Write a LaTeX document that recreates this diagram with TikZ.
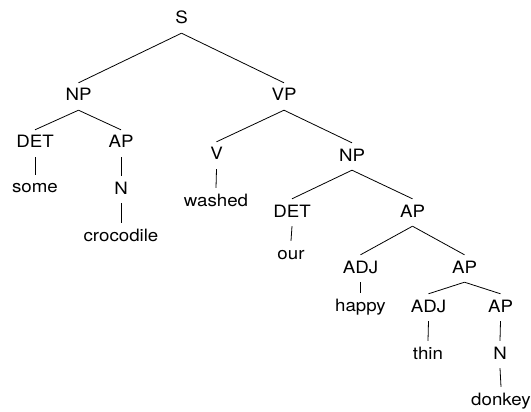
\documentclass[tikz,border=0pt]{standalone}
\usepackage{fontspec}
\setmainfont{TeX Gyre Heros}[FakeStretch=1.1]
\begin{document}
\begin{tikzpicture}[x=1pt,y=-1pt,
  tnode/.style={font=\fontsize{17}{20}\selectfont, anchor=base, text height=12pt, text depth=3pt, inner xsep=2pt, inner ysep=6pt},
  edge/.style={draw=black, line width=0.8pt}]
\useasboundingbox (0,0) rectangle (531,412);
\node[tnode] (S) at (181.5,24) {S};
\node[tnode] (NP) at (78.5,101) {NP};
\node[tnode] (VP) at (284,101) {VP};
\node[tnode] (DET) at (35,148) {DET};
\node[tnode] (AP) at (121,148) {AP};
\node[tnode] (some) at (35,193) {some};
\node[tnode] (N) at (121,194) {N};
\node[tnode] (croc) at (121,241) {crocodile};
\node[tnode] (V) at (216.5,160) {V};
\node[tnode] (washed) at (216,206) {washed};
\node[tnode] (NPb) at (352,161) {NP};
\node[tnode] (DETb) at (292,217) {DET};
\node[tnode] (APb) at (412.5,217) {AP};
\node[tnode] (our) at (291,259) {our};
\node[tnode] (ADJ) at (360.5,273) {ADJ};
\node[tnode] (APc) at (464.5,273) {AP};
\node[tnode] (happy) at (360.5,311) {happy};
\node[tnode] (ADJb) at (428.5,312) {ADJ};
\node[tnode] (APd) at (500.5,312) {AP};
\node[tnode] (thin) at (428,359) {thin};
\node[tnode] (Nb) at (500,359) {N};
\node[tnode] (donkey) at (501,405) {donkey};
\draw[edge] (S.south) -- (NP.north);
\draw[edge] (S.south) -- (VP.north);
\draw[edge] (NP.south) -- (DET.north);
\draw[edge] (NP.south) -- (AP.north);
\draw[edge] (DET.south) -- (some.north);
\draw[edge] (AP.south) -- (N.north);
\draw[edge] (N.south) -- (croc.north);
\draw[edge] (VP.south) -- (V.north);
\draw[edge] (VP.south) -- (NPb.north);
\draw[edge] (V.south) -- (washed.north);
\draw[edge] (NPb.south) -- (DETb.north);
\draw[edge] (NPb.south) -- (APb.north);
\draw[edge] (DETb.south) -- (our.north);
\draw[edge] (APb.south) -- (ADJ.north);
\draw[edge] (APb.south) -- (APc.north);
\draw[edge] (ADJ.south) -- (happy.north);
\draw[edge] (APc.south) -- (ADJb.north);
\draw[edge] (APc.south) -- (APd.north);
\draw[edge] (ADJb.south) -- (thin.north);
\draw[edge] (APd.south) -- (Nb.north);
\draw[edge] (Nb.south) -- (donkey.north);
\end{tikzpicture}
\end{document}
